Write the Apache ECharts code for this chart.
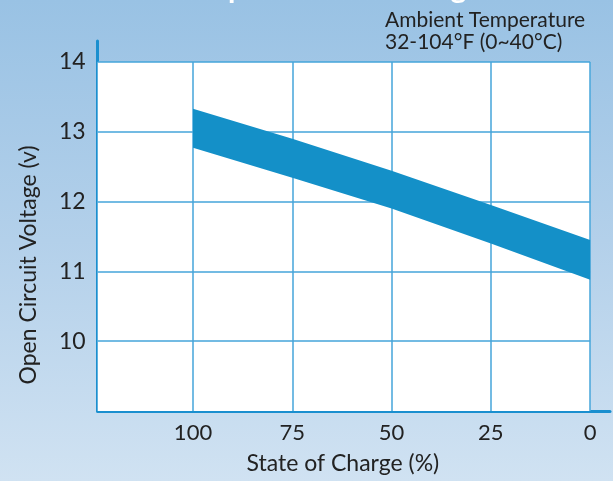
<!DOCTYPE html>
<html>
<head>
<meta charset="utf-8">
<script src="https://cdn.jsdelivr.net/npm/echarts@6.0.0/dist/echarts.min.js"></script>
<style>
html,body{margin:0;padding:0;width:613px;height:481px;overflow:hidden;}
#chart{width:613px;height:481px;}
</style>
</head>
<body>
<div id="chart"></div>
<script>
// ---- data ----
const socPercent = [100, 75, 50, 25, 0];
const upperVoltage = [13.33, 12.90, 12.44, 11.95, 11.45];
const lowerVoltage = [12.77, 12.34, 11.90, 11.40, 10.88];
const socTickLabels = [100, 75, 50, 25, 0];
const voltTickLabels = [10, 11, 12, 13, 14];
const titleText = 'Open Circuit Voltage';
const noteLines = ['Ambient Temperature', '32-104°F (0~40°C)'];

// plot frame extents (axis values)
const xFrameMax = 124, xFrameMin = -5;
const yFrameMin = 9, yFrameMax = 14.3;
const plotTop = 14;

const FONT = 'Lato';
const gridColor = '#45a5da';
const axisColor = '#1a8fcf';
const bandColor = '#1490c8';

const chart = echarts.init(document.getElementById('chart'));

const gridLines = [];
socTickLabels.forEach(v => gridLines.push([{coord: [v, yFrameMin]}, {coord: [v, plotTop]}]));
voltTickLabels.forEach(v => gridLines.push([{coord: [xFrameMax, v]}, {coord: [0, v]}]));

const bandData = socPercent.map((s, i) => [s, lowerVoltage[i], upperVoltage[i]]);

const option = {
  backgroundColor: new echarts.graphic.LinearGradient(0, 0, 0, 1, [
    {offset: 0, color: '#99c2e4'},
    {offset: 0.5, color: '#b3d0ea'},
    {offset: 1, color: '#d0e2f2'}
  ]),
  animation: false,
  textStyle: {fontFamily: FONT},
  grid: {left: 97.7, right: 3, top: 41, bottom: 70, containLabel: false},
  xAxis: {
    type: 'value', inverse: true, min: xFrameMin, max: xFrameMax,
    axisLine: {show: true, onZero: false, lineStyle: {color: axisColor, width: 3}},
    axisTick: {show: false},
    splitLine: {show: false},
    axisLabel: {customValues: socTickLabels, fontSize: 22, color: '#222', margin: 11, fontFamily: FONT},
    name: 'State of Charge (%)', nameLocation: 'middle', nameGap: 41,
    nameTextStyle: {fontSize: 23, color: '#222', fontFamily: FONT, padding: [0, 22, 0, 0]}
  },
  yAxis: {
    type: 'value', min: yFrameMin, max: yFrameMax,
    axisLine: {show: true, onZero: false, lineStyle: {color: axisColor, width: 3}},
    axisTick: {show: false},
    splitLine: {show: false},
    axisLabel: {customValues: voltTickLabels, fontSize: 23, color: '#222', margin: 12, fontFamily: FONT},
    name: 'Open Circuit Voltage (v)', nameLocation: 'middle', nameGap: 58,
    nameTextStyle: {fontSize: 23, color: '#222', fontFamily: FONT, padding: [0, 78, 0, 0]}
  },
  graphic: [
    {type: 'text', left: 385, top: 9, style: {text: noteLines.join('\n'), font: '21px ' + FONT, fill: '#222', lineHeight: 22}},
    {type: 'text', left: 204, top: -27, style: {text: titleText, font: 'bold 30px ' + FONT, fill: '#ffffff'}}
  ],
  series: [
    {
      type: 'line', data: [], z: 1, silent: true,
      markArea: {silent: true, itemStyle: {color: '#ffffff'},
        data: [[{coord: [xFrameMax, yFrameMin]}, {coord: [0, plotTop]}]]}
    },
    {
      type: 'line', data: [], z: 2, silent: true,
      markLine: {silent: true, symbol: 'none', label: {show: false},
        lineStyle: {color: gridColor, width: 1.5, type: 'solid'}, data: gridLines}
    },
    {
      type: 'custom', z: 5, silent: true,
      data: bandData,
      encode: {x: 0, y: [1, 2]},
      renderItem: function (params, api) {
        if (params.dataIndex !== 0) return;
        const pts = [];
        for (let i = 0; i < socPercent.length; i++) pts.push(api.coord([socPercent[i], upperVoltage[i]]));
        for (let i = socPercent.length - 1; i >= 0; i--) pts.push(api.coord([socPercent[i], lowerVoltage[i]]));
        return {type: 'polygon', shape: {points: pts}, style: {fill: bandColor}};
      }
    }
  ]
};
chart.setOption(option);
</script>
</body>
</html>
